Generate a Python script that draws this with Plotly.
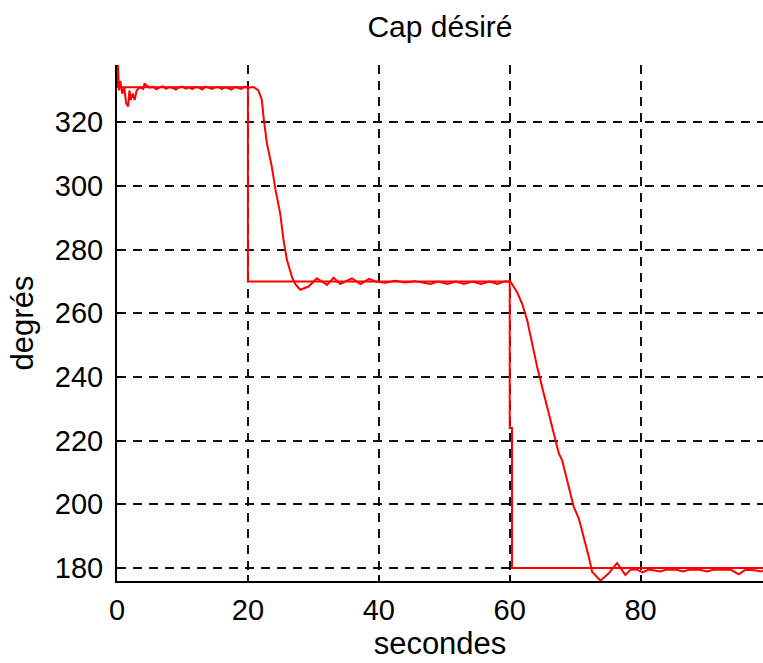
import plotly.graph_objects as go

# Desired heading (step signal)
t_desire = [0, 20, 20, 60, 60, 60.35, 60.35, 100]
cap_desire = [331, 331, 270, 270, 224, 224, 180, 180]

t_reel = [0, 0.15, 0.3, 0.5, 0.8, 1.1, 1.4, 1.7, 1.9, 2.1, 2.4, 2.7, 3.0, 3.5, 4.0, 4.2,
          4.5, 5.0, 5.5, 6.0, 6.5, 7.0, 7.5, 8.0, 8.5, 9.0, 9.5, 10.0, 10.5, 11.0, 11.5,
          12.0, 12.5, 13.0, 13.5, 14.0, 14.5, 15.0, 15.5, 16.0, 16.5, 17.0, 17.5, 18.0,
          18.5, 19.0, 19.5, 20.0, 20.5,
          20.85, 21.6, 22.13, 22.4, 22.9, 23.66, 24.17, 24.93, 25.44, 25.96, 26.72, 27.23,
          27.99, 29.26, 30.55, 32.08, 33.1, 34.1, 35.9, 37.2, 38.5, 39.5, 41.0, 42.5,
          44.0, 45.5, 47.9, 49.0, 50.5, 51.8, 53.0, 54.3, 55.6, 56.9, 58.1, 59.2, 60.1,
          61.14, 61.9, 62.67, 63.43, 64.2, 64.96, 65.73, 66.49, 67.5, 68.0, 68.77,
          69.78, 70.55, 71.31, 72.08, 72.59, 73.86, 75.13, 76.4, 77.68, 78.45, 79.3,
          80.3, 81.2, 82.0, 83.0, 84.0, 85.5, 86.5, 87.5, 89.0, 90.2, 91.2, 92.5, 93.8,
          95.0, 96.0, 97.5, 98.3, 99.3, 100]
cap_reel = [331, 338, 330, 333, 329, 331, 326, 325, 330, 327, 329, 327, 330, 331, 330.5, 332.2,
            331.6, 330.9, 331.2, 330.4, 331.0, 331.3, 330.5, 331.1, 330.8, 330.3, 331.0,
            331.2, 330.6, 331.0, 330.4, 331.1, 330.9, 330.3, 331.2, 330.8, 330.5, 331.0,
            331.1, 330.4, 331.0, 330.7, 330.3, 331.1, 330.9, 330.5, 331.2, 330.8, 331.0,
            331.1, 330.0, 327.0, 321.5, 313.4, 306.0, 299.3, 291.4, 283.0, 276.8, 271.5, 269.2,
            267.4, 268.4, 271.0, 268.9, 271.2, 269.2, 271.0, 269.2, 270.8, 270.0, 269.6,
            270.2, 269.7, 270.1, 269.2, 270.0, 269.2, 270.0, 269.2, 270.0, 269.2, 270.0,
            269.2, 270.0, 270.0,
            266.6, 263.0, 257.8, 250.4, 243.1, 236.8, 230.6, 224.3, 216.0, 213.9, 207.6,
            199.2, 195.6, 189.8, 183.5, 178.8, 176.0, 178.3, 181.5, 177.8, 179.4, 179.6,
            178.6, 179.5, 179.3, 178.9, 179.5, 179.4, 178.9, 179.5, 179.4, 178.9, 179.5,
            179.4, 179.4, 178.0, 179.4, 179.3, 178.9, 179.5, 179.4]

x_ticks = [0, 20, 40, 60, 80]
y_ticks = [180, 200, 220, 240, 260, 280, 300, 320]

FONT = "Liberation Sans, Arial, sans-serif"

fig = go.Figure()
fig.add_trace(go.Scatter(x=t_desire, y=cap_desire, mode="lines",
                         line=dict(color="#ff0000", width=2), showlegend=False))
fig.add_trace(go.Scatter(x=t_reel, y=cap_reel, mode="lines",
                         line=dict(color="#ff0000", width=2), showlegend=False))

axis_common = dict(
    showline=True, linecolor="#000000", linewidth=2, mirror=False,
    showgrid=True, gridcolor="#111111", gridwidth=2, griddash="9px,7px",
    zeroline=False, ticks="inside", ticklen=6, tickwidth=2, tickcolor="#000000",
    tickfont=dict(family=FONT, size=29, color="#000000"),
    automargin=False,
)

fig.update_xaxes(range=[0, 98.7], tickvals=x_ticks, ticklabelstandoff=2,
                 title=dict(text="secondes", font=dict(family=FONT, size=31, color="#000000"),
                            standoff=4),
                 **axis_common)
fig.update_yaxes(range=[175.9, 338.0], tickvals=y_ticks, ticklabelstandoff=6,
                 title=dict(text="degrés", font=dict(family=FONT, size=31, color="#000000"),
                            standoff=12),
                 **axis_common)

fig.update_layout(
    width=763, height=663,
    margin=dict(l=117, r=0, t=65, b=82, pad=0),
    paper_bgcolor="#ffffff", plot_bgcolor="#ffffff",
    title=dict(text="Cap désiré", font=dict(family=FONT, size=30, color="#000000"),
               x=0.5, xref="paper", xanchor="center",
               y=1 - 26 / 663, yref="container", yanchor="middle"),
)

fig.write_html("out.html", config={"displayModeBar": False},
               post_script="document.body.style.margin='0px';document.body.style.overflow='hidden';")
